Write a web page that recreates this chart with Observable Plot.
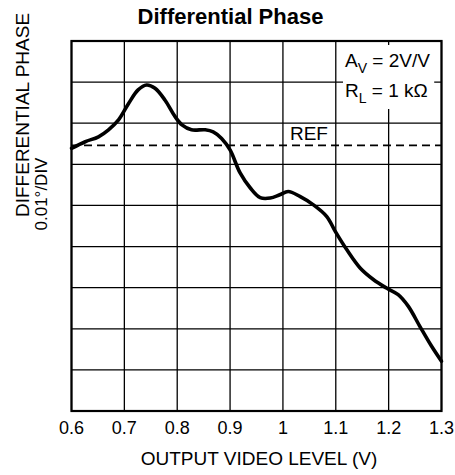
<!DOCTYPE html>
<html>
<head>
<meta charset="utf-8">
<script src="https://cdn.jsdelivr.net/npm/d3@7"></script>
<script src="https://cdn.jsdelivr.net/npm/@observablehq/plot@0.6"></script>
<style>
  html, body { margin: 0; padding: 0; background: #fff; }
  #chart { width: 455px; height: 475px; }
</style>
</head>
<body>
<div id="chart"></div>
<script>
// ---- data ----
const titleText = "Differential Phase";
const xLabel = "OUTPUT VIDEO LEVEL (V)";
const yLabelLines = ["DIFFERENTIAL PHASE", "0.01°/DIV"];
const noteLines = ["A_V = 2V/V", "R_L = 1 kΩ"];
const refLabel = "REF";
const refValue = 0; // degrees, reference level

const xTicks = [0.6, 0.7, 0.8, 0.9, 1.0, 1.1, 1.2, 1.3];
const xTickLabels = ["0.6", "0.7", "0.8", "0.9", "1", "1.1", "1.2", "1.3"];

// y: differential phase (degrees) relative to REF; 0.01°/DIV
const yDomain = [-0.0646, 0.0254];
const yGridLines = [0.0254, 0.0154, 0.0054, -0.0046, -0.0146, -0.0246, -0.0346, -0.0446, -0.0546, -0.0646];

const videoLevel = [0.600, 0.626, 0.651, 0.670, 0.689, 0.708, 0.726, 0.742, 0.758, 0.777,
                    0.796, 0.809, 0.827, 0.853, 0.868, 0.884, 0.900, 0.919, 0.938, 0.957,
                    0.976, 0.994, 1.010, 1.032, 1.057, 1.083, 1.099, 1.121, 1.146, 1.171,
                    1.196, 1.218, 1.237, 1.259, 1.281, 1.300];
const diffPhase = [-0.0007, 0.0009, 0.0021, 0.0038, 0.0062, 0.0102, 0.0135, 0.0147, 0.0139, 0.0110,
                   0.0070, 0.0050, 0.0038, 0.0038, 0.0033, 0.0017, -0.0011, -0.0067, -0.0103, -0.0127,
                   -0.0128, -0.0120, -0.0112, -0.0124, -0.0144, -0.0173, -0.0209, -0.0254, -0.0298, -0.0326,
                   -0.0347, -0.0363, -0.0391, -0.0440, -0.0488, -0.0525];

const curve = videoLevel.map((x, i) => ({x, y: diffPhase[i]}));

const font = "'Liberation Sans', Arial, Helvetica, sans-serif";

const plot = Plot.plot({
  width: 455,
  height: 475,
  marginLeft: 71,
  marginRight: 14,
  marginTop: 40.5,
  marginBottom: 64.5,
  style: {fontFamily: font, fontSize: "18px", color: "black", background: "white"},
  x: {domain: [0.6, 1.3], axis: null},
  y: {domain: yDomain, axis: null},
  marks: [
    Plot.ruleX(xTicks, {stroke: "black", strokeWidth: 1.3}),
    Plot.ruleY(yGridLines, {stroke: "black", strokeWidth: 1.3}),
    Plot.ruleY([refValue], {stroke: "black", strokeWidth: 1.6, strokeDasharray: "8,5"}),
    Plot.frame({stroke: "black", strokeWidth: 2.2}),
    Plot.line(curve, {x: "x", y: "y", curve: "catmull-rom", stroke: "black", strokeWidth: 3.6, strokeLinejoin: "round", strokeLinecap: "round"}),
    Plot.text([refLabel], {x: 1.0, y: refValue, dx: 7, dy: -5.5, textAnchor: "start", lineAnchor: "bottom", fontSize: 19, fill: "black"}),
    Plot.text([noteLines[0]], {frameAnchor: "top-right", dx: -96.5, dy: 26, textAnchor: "start", lineAnchor: "bottom", fontSize: 19, fill: "black"}),
    Plot.text([noteLines[1]], {frameAnchor: "top-right", dx: -96.5, dy: 56, textAnchor: "start", lineAnchor: "bottom", fontSize: 19, fill: "black"}),
    Plot.axisX(xTicks, {tickSize: 0, tickPadding: 10, fontSize: 18, tickFormat: d => xTickLabels[xTicks.indexOf(d)], label: null}),
    Plot.text([xLabel], {frameAnchor: "bottom", dx: 2.5, dy: 54, lineAnchor: "bottom", fontSize: 19, fill: "black"}),
    Plot.text([yLabelLines[0]], {frameAnchor: "left", rotate: -90, dx: -43, dy: -9, lineAnchor: "bottom", fontSize: 19, fill: "black"}),
    Plot.text([yLabelLines[1]], {frameAnchor: "left", rotate: -90, dx: -24.5, dy: 4.5, lineAnchor: "bottom", fontSize: 17, fill: "black"}),
    Plot.text([titleText], {frameAnchor: "top", dx: -26, dy: -17, lineAnchor: "bottom", fontSize: 22, fontWeight: "bold", fill: "black"})
  ]
});

document.getElementById("chart").append(plot);

// subscripts in the annotation (A_V, R_L) and a white box behind it
const ns = "http://www.w3.org/2000/svg";
const noteTexts = Array.from(plot.querySelectorAll("text")).filter(t => noteLines.includes(t.textContent));
noteTexts.forEach(t => {
  const m = t.textContent.match(/^(.*?)_(\S)(.*)$/);
  if (!m) return;
  t.textContent = "";
  const a = document.createElementNS(ns, "tspan"); a.textContent = m[1];
  const b = document.createElementNS(ns, "tspan"); b.textContent = m[2];
  b.setAttribute("dy", "6"); b.setAttribute("font-size", "14");
  const c = document.createElementNS(ns, "tspan"); c.textContent = m[3];
  c.setAttribute("dy", "-6");
  t.append(a, b, c);
});
if (noteTexts.length) {
  const svgBox = plot.getBoundingClientRect();
  let x0 = Infinity, y0 = Infinity, x1 = -Infinity, y1 = -Infinity;
  noteTexts.forEach(t => {
    const r = t.getBoundingClientRect();
    x0 = Math.min(x0, r.left - svgBox.left); y0 = Math.min(y0, r.top - svgBox.top);
    x1 = Math.max(x1, r.right - svgBox.left); y1 = Math.max(y1, r.bottom - svgBox.top);
  });
  const rect = document.createElementNS(ns, "rect");
  rect.setAttribute("x", x0 - 2);
  rect.setAttribute("y", y0 - 5);
  rect.setAttribute("width", x1 - x0 + 6);
  rect.setAttribute("height", y1 - y0 + 8);
  rect.setAttribute("fill", "white");
  const g = noteTexts[0].parentNode;
  g.parentNode.insertBefore(rect, g);
}
</script>
</body>
</html>
